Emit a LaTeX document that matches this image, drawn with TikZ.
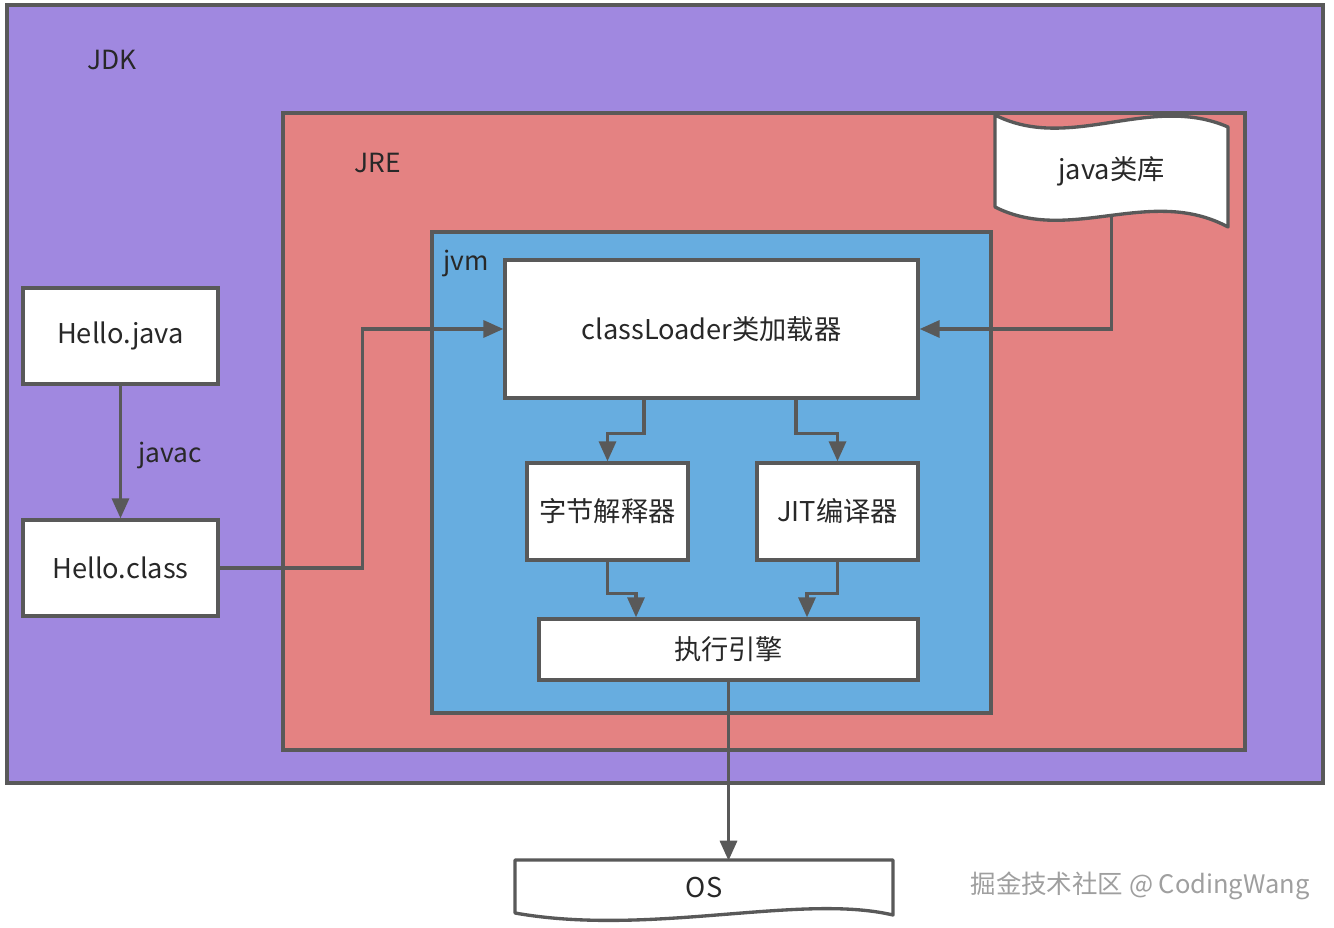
\documentclass[tikz,border=0pt]{standalone}
\usepackage{fontspec}
\setmainfont{Noto Sans CJK SC}
\usetikzlibrary{arrows.meta, positioning, calc}
\definecolor{jdkfill}{RGB}{160,136,224}
\definecolor{jrefill}{RGB}{228,130,130}
\definecolor{jvmfill}{RGB}{103,173,224}
\definecolor{edge}{RGB}{89,89,89}
\definecolor{ink}{RGB}{40,40,40}
\tikzset{
  frame/.style={rectangle, draw=edge, line width=1.9pt, inner sep=0pt},
  box/.style={rectangle, draw=edge, fill=white, line width=1.9pt, inner sep=0pt,
              text=ink, font=\fontsize{15.5}{18}\selectfont},
  tag/.style={text=ink, font=\fontsize{15}{18}\selectfont},
  paper/.style={draw=edge, fill=white, line width=1.9pt, line join=round},
  arrow/.style={-{Triangle[length=4mm, width=3.4mm]}, draw=edge, line width=1.9pt},
}

\begin{document}
\begin{tikzpicture}[x=0.02cm, y=-0.02cm]
  \fill[white] (0,0) rectangle (1334,928);
  \useasboundingbox (0,0) rectangle (1334,928);

  % nested containers
  \node (jdk) [frame, fill=jdkfill, minimum width=26.32cm, minimum height=15.56cm] at (665,394) {};
  \node (jre) [frame, fill=jrefill, minimum width=19.24cm, minimum height=12.74cm] at (764,431.5) {};
  \node (jvm) [frame, fill=jvmfill, minimum width=11.18cm, minimum height=9.62cm] at (711.5,472.5) {};
  \node [tag] at (112,60) {JDK};
  \node [tag] at (378,163) {JRE};
  \node [tag] at (466,263) {jvm};

  \node (src) [box, minimum width=3.9cm, minimum height=1.92cm] at (120.5,336) {Hello.java};
  \node (cls) [box, minimum width=3.9cm, minimum height=1.92cm] at (120.5,568) {Hello.class};
  \node [tag] at (170,455) {javac};

  \node (cl) [box, minimum width=8.26cm, minimum height=2.76cm] at (711.5,329) {classLoader类加载器};
  \node (ip) [box, minimum width=3.22cm, minimum height=1.94cm] at (607.5,511.5) {字节解释器};
  \node (jit) [box, minimum width=3.22cm, minimum height=1.94cm] at (837.5,511.5) {JIT编译器};
  \node (ex) [box, minimum width=7.58cm, minimum height=1.22cm] at (728.5,649.5) {执行引擎};

  % library sheet and OS
  \draw[paper] (995,115) .. controls (1070,153) and (1150,93) .. (1228,127)
    -- (1228,227) .. controls (1150,185) and (1070,245) .. (995,207) -- cycle;
  \node (lib) [tag, font=\fontsize{15.5}{18}\selectfont, minimum width=4.66cm, minimum height=2.24cm] at (1111.5,171) {java类库};
  \draw[paper] (515,860) -- (893,860) -- (893,915)
    .. controls (800,893) and (650,937) .. (515,913) -- cycle;
  \node (os) [tag, font=\fontsize{15.5}{18}\selectfont, minimum width=7.56cm, minimum height=1.08cm] at (704,888) {OS};

  \draw[arrow] (src) -- (cls);
  \draw[arrow] (cls.east) -- ++(143,0) |- (cl.west);
  \draw[arrow] ([yshift=0.2cm]lib.south) |- (cl.east);
  \draw[arrow] ($(cl.south)+(-67.5,0)$) -- ++(0,34) -| (ip.north);
  \draw[arrow] ($(cl.south)+(84.5,0)$) -- ++(0,34) -| (jit.north);
  \draw[arrow] (ip.south) -- ++(0,32) -| ($(ex.north)+(-92.5,0)$);
  \draw[arrow] (jit.south) -- ++(0,32) -| ($(ex.north)+(78.5,0)$);
  \draw[arrow] (ex.south) -- (ex.south |- os.north);

  \node (mark) [text=gray!75, font=\fontsize{14.5}{17}\selectfont] at (1140,886) {掘金技术社区 @ CodingWang};
\end{tikzpicture}
\end{document}
